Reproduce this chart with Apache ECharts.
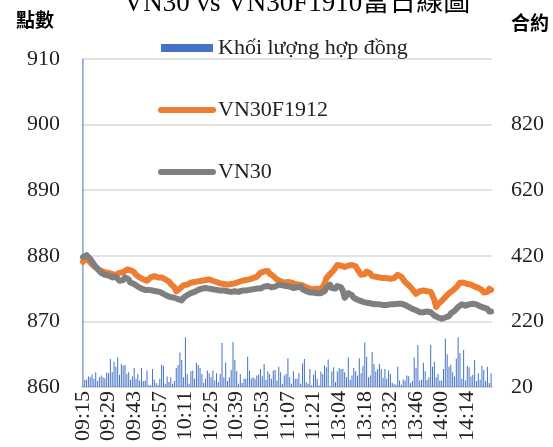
<!DOCTYPE html>
<html lang="zh-Hant">
<head>
    <meta charset="UTF-8">
    <title>VN30 vs VN30F1910</title>
    <script src="https://cdn.jsdelivr.net/npm/echarts@6/dist/echarts.min.js"></script>
</head>
<body style="margin:0;">
<div id="container" style="width:553px;height:447px;"></div>
<script>

    // trading sessions (one category per minute)
    var sessions = [['09:15', '11:30'], ['13:00', '14:27']];

    // 合約 volume per minute
    var volume = [
        1500,
        42, 42, 52, 50, 58, 45, 65, 38, 50, 55,
        50, 47, 64, 62, 105, 65, 97, 82, 110, 57,
        90, 85, 87, 60, 65, 42, 52, 78, 45, 60,
        40, 78, 38, 40, 70, 25, 25, 75, 43, 32,
        27, 45, 88, 85, 30, 52, 35, 50, 30, 38,
        78, 87, 125, 102, 50, 172, 60, 30, 68, 70,
        45,
        94, 87, 78, 60, 33, 45, 70, 62, 50, 70,
        40, 62, 35, 60, 154, 50, 94, 38, 50, 72,
        157, 102, 68, 30, 60, 32, 45, 45, 112, 70,
        47, 50, 45, 55, 58, 75, 53, 90, 42, 68,
        60, 45, 70, 72, 40, 82, 65, 30, 55, 60,
        108, 50, 30, 68, 45, 45, 63, 30, 92, 105,
        35,
        30, 75, 25, 57, 70, 45, 25, 67, 60, 86,
        80, 104, 22, 68, 80, 35, 68, 78, 75, 76,
        65, 50, 110, 42, 55, 78, 68, 55, 108, 62,
        85, 156, 112, 50, 55, 127, 90, 67, 75, 90,
        75, 48, 75, 45, 70, 60, 33, 30, 27, 82,
        40,
        27, 43, 40, 55, 53, 32, 38, 110, 78, 148,
        40, 42, 94, 68, 42, 50, 148, 82, 97, 50,
        60, 40, 40, 75, 168, 120, 82, 88, 65, 52,
        107, 172, 124, 45, 133, 40, 85, 80, 52, 57,
        102, 38, 62, 42, 85, 72, 38, 82, 32, 62
    ];

    // 點數
    var vn30f = [
        879.1, 879.3, 879.6, 879.4, 879.0, 878.8, 878.4, 878.4, 878.0, 878.1,
        877.7, 877.8, 877.5, 877.6, 877.4, 877.5, 877.2, 877.4, 877.1, 877.3,
        877.4, 877.2, 877.5, 877.6, 877.9, 877.7, 877.8, 877.6, 877.5, 877.1,
        877.1, 876.7, 876.8, 876.4, 876.5, 876.2, 876.4, 876.7, 876.6, 876.9,
        876.6, 876.7, 876.5, 876.7, 876.4, 876.4, 876.1, 876.1, 875.7, 875.7,
        875.2, 874.6, 874.5, 875.0, 875.2, 875.5, 875.2, 875.6, 875.5, 875.9,
        875.7, 876.0, 875.9, 876.1, 875.9, 876.2, 876.0, 876.3, 876.2, 876.4,
        876.1, 876.2, 875.9, 876.0, 875.7, 875.8, 875.5, 875.7, 875.4, 875.6,
        875.5, 875.7, 875.6, 875.8, 875.7, 876.0, 875.9, 876.2, 876.0, 876.3,
        876.2, 876.4, 876.3, 876.6, 876.4, 876.8, 876.9, 877.4, 877.3, 877.6,
        877.4, 877.7, 877.3, 877.3, 876.9, 876.9, 876.4, 876.5, 876.1, 876.2,
        875.9, 876.1, 876.0, 876.2, 875.9, 876.0, 875.7, 875.8, 875.6, 875.8,
        875.5, 875.6, 875.2, 875.3, 875.0, 875.1, 874.9, 875.1, 875.0, 875.1,
        874.9, 875.3, 875.7, 876.6, 876.7, 877.2,
        877.2, 877.8, 878.1, 878.6,
        878.5, 878.5, 878.2, 878.3, 878.2, 878.5, 878.2, 878.6, 878.5, 878.4,
        877.9, 877.7, 877.1, 877.1, 877.2, 877.6, 877.3, 877.3, 876.9, 877.1,
        876.8, 877.0, 876.7, 876.9, 876.6, 876.7, 876.6, 876.7, 876.5, 876.7,
        876.6, 876.9, 877.1, 877.4, 876.8, 876.5, 876.0, 876.0, 875.5, 875.4,
        874.9, 874.8, 874.2, 874.5, 874.6, 874.9, 874.7, 874.9, 874.6, 874.9,
        874.5, 874.4, 873.3, 872.2, 872.6, 872.7, 873.1, 873.2, 873.7, 873.9,
        874.3, 874.3, 874.7, 874.7, 875.2, 875.3, 875.9, 875.9, 875.9, 875.6,
        875.7, 875.4, 875.6, 875.3, 875.3, 875.0, 875.1, 874.8, 874.8, 874.4,
        874.5, 874.5, 875.0, 874.8
    ];

    var vn30 = [
        879.8, 880.0, 880.1, 879.9, 879.5, 879.3, 878.7, 878.6, 878.0, 877.9,
        877.4, 877.7, 877.1, 877.1, 877.0, 877.0, 876.7, 876.9, 876.8, 876.6,
        876.2, 876.3, 876.3, 876.7, 876.4, 876.4, 875.9, 876.0, 875.7, 875.7,
        875.3, 875.4, 875.0, 875.1, 874.8, 875.1, 874.8, 874.9, 874.7, 874.9,
        874.6, 874.8, 874.5, 874.5, 874.2, 874.2, 873.9, 874.0, 873.7, 873.9,
        873.6, 873.7, 873.4, 873.5, 873.2, 873.6, 873.6, 874.0, 873.9, 874.3,
        874.2, 874.5, 874.4, 874.8, 874.7, 875.0, 874.9, 875.1, 874.9, 875.0,
        874.7, 874.9, 874.7, 874.8, 874.5, 874.7, 874.4, 874.7, 874.4, 874.6,
        874.3, 874.5, 874.3, 874.6, 874.4, 874.5, 874.4, 874.7, 874.4, 874.7,
        874.5, 874.8, 874.6, 874.9, 874.7, 875.0, 874.8, 875.0, 874.9, 875.3,
        875.2, 875.4, 875.1, 875.2, 875.0, 875.3, 875.3, 875.6, 875.4, 875.5,
        875.2, 875.4, 875.2, 875.3, 875.0, 875.1, 874.9, 875.2, 875.1, 875.3,
        874.9, 875.0, 874.6, 874.7, 874.4, 874.6, 874.4, 874.5, 874.3, 874.5,
        874.3, 874.6, 874.6, 875.1, 875.2, 875.6,
        875.1, 875.1, 875.0, 875.4,
        875.2, 875.2, 874.7, 873.6, 873.9, 874.3, 874.3, 874.0, 873.6, 873.6,
        873.3, 873.4, 873.1, 873.2, 872.9, 873.0, 872.8, 872.9, 872.7, 872.8,
        872.6, 872.7, 872.6, 872.7, 872.5, 872.6, 872.5, 872.7, 872.6, 872.7,
        872.6, 872.9, 872.7, 872.9, 872.7, 872.8, 872.5, 872.5, 872.2, 872.3,
        871.9, 872.0, 871.7, 871.7, 871.4, 871.6, 871.4, 871.6, 871.5, 871.6,
        871.4, 871.4, 870.9, 870.9, 870.6, 870.6, 870.4, 870.7, 870.6, 870.8,
        870.8, 871.2, 871.2, 871.6, 871.7, 872.2, 872.3, 872.6, 872.3, 872.4,
        872.3, 872.6, 872.4, 872.7, 872.5, 872.6, 872.3, 872.3, 872.0, 872.1,
        871.8, 871.9, 871.5, 871.5
    ];

    var pad = function (n) { return (n < 10 ? '0' : '') + n; };
    var times = [];
    sessions.forEach(function (s) {
        var a = s[0].split(':'), b = s[1].split(':');
        for (var m = +a[0] * 60 + +a[1]; m <= +b[0] * 60 + +b[1]; m++) {
            times.push(pad(Math.floor(m / 60)) + ':' + pad(m % 60));
        }
    });

    var serif = '"Liberation Serif", "Times New Roman", serif';
    var cjk = '"Noto Sans CJK TC", "Noto Sans CJK SC", sans-serif';
    var orange = '#ED7D31', grey = '#7F7F7F', blue = '#4472C4';

    var myChart = echarts.init(document.getElementById('container'));

    myChart.setOption({
        backgroundColor: '#fff',
        animation: false,
        graphic: [
            {
                type: 'text', x: 297, y: 4,
                style: {
                    text: 'VN30 vs VN30F1910當日線圖',
                    font: '27px ' + serif + ', ' + cjk,
                    fill: '#000', align: 'center', verticalAlign: 'middle'
                }
            },
            {
                type: 'text', x: 35, y: 20,
                style: {
                    text: '點數', font: 'bold 19px ' + cjk,
                    fill: '#000', align: 'center', verticalAlign: 'middle'
                }
            },
            {
                type: 'text', x: 530, y: 23,
                style: {
                    text: '合約', font: 'bold 19px ' + cjk,
                    fill: '#000', align: 'center', verticalAlign: 'middle'
                }
            }
        ],
        legend: {
            orient: 'vertical',
            left: 153,
            top: 32,
            itemWidth: 52,
            itemHeight: 8,
            itemGap: 40,
            data: [
                {name: 'Khối lượng hợp đồng', icon: 'rect'},
                {name: 'VN30F1912', itemStyle: {opacity: 0}, lineStyle: {width: 6, cap: 'round'}},
                {name: 'VN30', itemStyle: {opacity: 0}, lineStyle: {width: 6, cap: 'round'}}
            ],
            textStyle: {
                fontFamily: serif,
                fontSize: 22,
                color: '#222'
            }
        },
        grid: {
            left: 82,
            right: 61,
            top: 59,
            bottom: 60
        },
        xAxis: {
            type: 'category',
            data: times,
            boundaryGap: true,
            axisLine: {lineStyle: {color: '#D9D9D9', width: 2}},
            axisTick: {show: false},
            axisLabel: {
                rotate: 90,
                interval: 13,
                margin: 4,
                fontFamily: serif,
                fontSize: 22,
                color: '#222'
            }
        },
        yAxis: [
            {
                type: 'value',
                min: 860,
                max: 910,
                interval: 10,
                axisLine: {show: false},
                axisTick: {show: false},
                splitLine: {lineStyle: {color: '#D9D9D9', width: 1.5}},
                axisLabel: {
                    margin: 22,
                    fontFamily: serif,
                    fontSize: 22,
                    color: '#222'
                }
            },
            {
                type: 'value',
                position: 'right',
                min: 20,
                max: 1020,
                interval: 200,
                axisLine: {show: false},
                axisTick: {show: false},
                splitLine: {show: false},
                axisLabel: {
                    margin: 19,
                    showMaxLabel: false,
                    fontFamily: serif,
                    fontSize: 22,
                    color: '#222'
                }
            }
        ],
        series: [
            {
                name: 'Khối lượng hợp đồng',
                type: 'bar',
                yAxisIndex: 1,
                barWidth: 1,
                clip: true,
                itemStyle: {color: blue},
                data: volume
            },
            {
                name: 'VN30F1912',
                type: 'line',
                symbol: 'none',
                lineStyle: {color: orange, width: 6, cap: 'round', join: 'round'},
                itemStyle: {color: orange},
                data: vn30f
            },
            {
                name: 'VN30',
                type: 'line',
                symbol: 'none',
                lineStyle: {color: grey, width: 6, cap: 'round', join: 'round'},
                itemStyle: {color: grey},
                data: vn30
            }
        ]
    });

</script>
</body>
</html>
